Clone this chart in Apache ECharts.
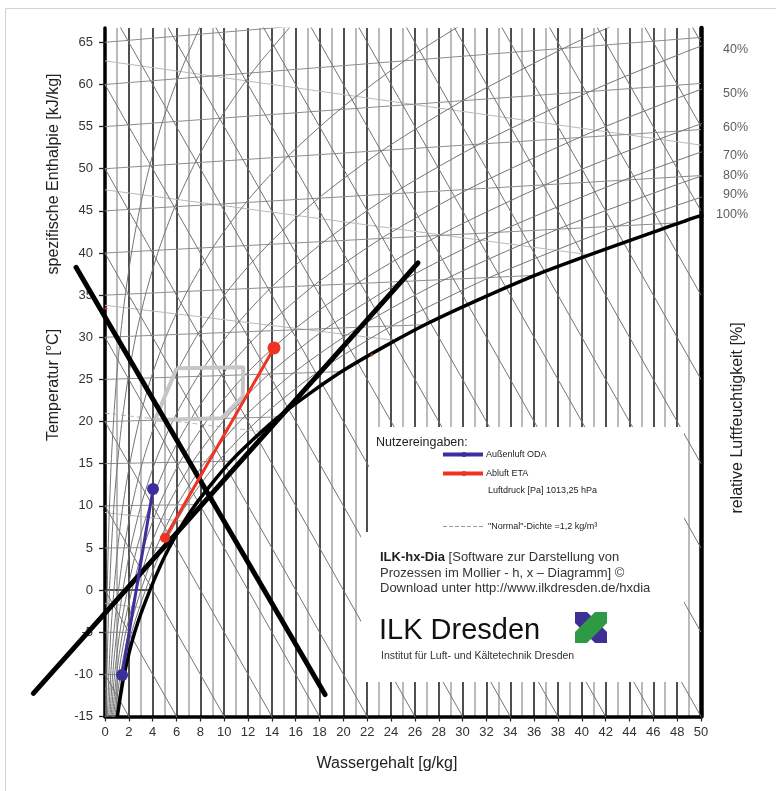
<!DOCTYPE html>
<html><head><meta charset="utf-8">
<script src="https://cdn.jsdelivr.net/npm/echarts@6/dist/echarts.min.js"></script>
<style>html,body{margin:0;padding:0;background:#fff}#c{width:776px;height:791px}</style>
</head><body><div id="c"></div>
<script>
// ---------- tick labels ----------
const xLabelTicks = [0,2,4,6,8,10,12,14,16,18,20,22,24,26,28,30,32,34,36,38,40,42,44,46,48,50];
const yLabelTicks = [-15,-10,-5,0,5,10,15,20,25,30,35,40,45,50,55,60,65];
const rhLabelText = ['40%','50%','60%','70%','80%','90%','100%'];
const rhLabelY = [64.2,58.9,54.9,51.6,49.2,46.9,44.6];

// ---------- background families (x g/kg, y chart value) ----------
const enthalpyLines = [[-10,-135],[0,-125],[10,-115],[20,-105],[30,-95],[40,-85],[50,-75],[60,-65],[70,-55],[80,-45],[90,-35],[100,-25],[110,-15],[120,-5],[130,5],[140,15],[150,25],[160,35],[170,45],[180,55],[190,65]];
const isothermTemps = [-10,-5,0,5,10,15,20,25,30,35,40,45,50,55,60,65];
const isothermEnds = [[1.60,-10.03],[2.48,-5.02],[3.77,0],[5.40,5.05],[7.62,10.14],[10.63,15.30],[14.66,20.55],[20.02,25.93],[27.13,31.51],[36.48,37.37],[48.78,43.63],[50,49.19],[50,54.65],[50,60.12],[50,65.58],[50,71.05]];
const densityValues = [1.05,1.10,1.15,1.20,1.25,1.30,1.35];
const densityLines = [[[0,62.8],[50,52.8]],[[0,47.5],[40.6,39.8]],[[0,33.8],[24.5,29.6]],[[0,21.0],[13.25,18.8]],[[0,9.2],[6.72,8.14]],[[0,-1.6],[3.25,-2.09]],[[0,-11.7],[1.39,-11.9]]];

const rh05 = [[0.05,-15.09],[0.08,-10.06],[0.12,-5.03],[0.19,0],[0.27,5.03],[0.38,10.07],[0.52,15.10],[0.72,20.15],[0.97,25.2],[1.30,30.25],[1.73,35.32],[2.27,40.41],[2.95,45.52],[3.81,50.65],[4.88,55.83],[6.20,61.05],[7.81,66.33],[8.56,68.47]];
const rh10 = [[0.10,-15.09],[0.16,-10.06],[0.25,-5.03],[0.38,0],[0.54,5.04],[0.75,10.07],[1.05,15.12],[1.44,20.17],[1.95,25.24],[2.61,30.33],[3.47,35.44],[4.56,40.58],[5.94,45.77],[7.67,51.01],[9.83,56.33],[12.52,61.76],[15.82,67.30]];
const rh20 = [[0.20,-15.1],[0.32,-10.07],[0.49,-5.04],[0.75,0],[1.07,5.04],[1.51,10.09],[2.10,15.15],[2.88,20.23],[3.90,25.33],[5.24,30.47],[6.97,35.66],[9.18,40.92],[11.99,46.27],[15.54,51.75],[19.99,57.37],[25.55,63.21],[32.48,69.3]];
const rh30 = [[0.31,-15.1],[0.48,-10.07],[0.74,-5.04],[1.13,0],[1.61,5.05],[2.27,10.1],[3.15,15.18],[4.33,20.28],[5.87,25.42],[7.90,30.62],[10.51,35.89],[13.87,41.27],[18.16,46.79],[23.60,52.49],[30.48,58.45],[39.11,64.73],[43.19,67.35]];
const rh40 = [[0.41,-15.1],[0.64,-10.07],[0.99,-5.04],[1.50,0],[2.15,5.05],[3.03,10.12],[4.21,15.21],[5.78,20.34],[7.86,25.52],[10.58,30.77],[14.09,36.13],[18.63,41.63],[24.46,47.32],[31.87,53.26],[41.32,59.56],[48.14,63.54],[50.65,64.91]];
const rh50 = [[0.51,-15.1],[0.80,-10.07],[1.24,-5.04],[1.88,0],[2.69,5.05],[3.79,10.13],[5.27,15.24],[7.24,20.39],[9.85,25.61],[13.27,30.92],[17.72,36.36],[23.47,41.99],[30.87,47.85],[40.35,54.05],[47.3,57.98],[49.83,59.33],[51.16,60.0]];
const rh60 = [[0.61,-15.1],[0.96,-10.08],[1.48,-5.04],[2.26,0],[3.23,5.06],[4.55,10.14],[6.33,15.31],[8.72,20.44],[11.86,25.70],[16.0,31.07],[21.38,36.60],[28.39,42.35],[37.41,48.40],[44.05,52.22],[49.07,54.86],[51.75,56.22]];
const rh70 = [[0.71,-15.1],[1.12,-10.08],[1.73,-5.05],[2.64,0],[3.77,5.07],[5.31,10.16],[7.40,15.30],[10.19,20.50],[13.88,25.80],[18.74,31.23],[25.1,36.84],[33.37,42.72],[44.1,48.96],[49.2,51.58],[52.0,52.93]];
const rh80 = [[0.81,-15.1],[1.28,-10.08],[1.98,-5.05],[3.02,0],[4.31,5.07],[6.08,10.17],[8.47,15.33],[11.67,20.55],[15.92,25.89],[21.51,31.38],[28.84,37.09],[38.46,43.10],[48.13,48.2],[49.5,48.87],[50.9,49.53]];
const rh90 = [[0.92,-15.1],[1.44,-10.09],[2.23,-5.05],[3.40,0],[4.85,5.08],[6.85,10.19],[9.55,15.36],[13.17,20.61],[17.96,25.99],[24.31,31.54],[32.64,37.33],[43.56,43.48],[49.67,46.46],[51.66,47.39]];
const saturation = [[1.02,-15.12],[1.60,-10.09],[2.48,-5.05],[3.77,0],[5.40,5.08],[7.62,10.2],[10.63,15.39],[14.66,20.67],[20.02,26.08],[27.13,31.69],[36.48,37.59],[48.78,43.87],[50.2,44.52]];

// ---------- user lines ----------
const comfortZone = [[6.01,26.33],[11.6,26.45],[11.55,22.96],[9.79,20.39],[4.19,20.19],[6.01,26.33]];
const lineA = [-6.01,-12.25,26.26,38.83];
const lineB = [-2.43,38.3,18.46,-12.4];
const outsideAir = [[1.43,-10.07],[4.03,12.0]];
const exhaustAir = [[5.03,6.19],[14.18,28.74]];
const redDots = [[0.08,33.4],[22.4,27.9]];

const FONT = '"Liberation Sans", Arial, sans-serif';
const chart = echarts.init(document.getElementById('c'), null, {renderer:'canvas'});

function ln(data, color, width, extra) {
  return Object.assign({type:'line', data:data, symbol:'none', showSymbol:false, silent:true,
    animation:false, clip:true, z:2, lineStyle:{color:color, width:width}}, extra || {});
}
function freeLine(seg) {
  return {type:'custom', data:[seg], silent:true, animation:false, clip:false, z:6,
    renderItem:function(params, api){
      const p0 = api.coord([api.value(0), api.value(1)]);
      const p1 = api.coord([api.value(2), api.value(3)]);
      return {type:'line', shape:{x1:p0[0],y1:p0[1],x2:p1[0],y2:p1[1]},
        style:{stroke:'#000', lineWidth:5, lineCap:'round'}};
    }};
}
const series = [];
densityLines.forEach((d,i) => series.push(ln(d,'#b9b9b9',1,{lineStyle:{color:'#b9b9b9',width:1,type: densityValues[i]===1.2?[5,3]:'solid'}})));
isothermTemps.forEach((t,i) => series.push(ln([[0,t],isothermEnds[i]], t===0?'#222':'#8e8e8e', t===0?1.5:1)));
enthalpyLines.forEach(e => series.push(ln([[0,e[0]],[50,e[1]]],'#747474',1)));
[rh05,rh10,rh20,rh30,rh40,rh50,rh60,rh70,rh80,rh90].forEach(c => series.push(ln(c,'#747474',1,{smooth:0.25})));
series.push(ln(comfortZone,'#c6c6c6',4,{z:4}));
series.push(ln(saturation,'#000',3.5,{smooth:0.25,z:5}));
series.push(freeLine(lineA));
series.push(freeLine(lineB));
series.push(ln(outsideAir,'#3b2f9e',3,{z:8,symbol:'circle',showSymbol:true,symbolSize:12,itemStyle:{color:'#3b2f9e'}}));
series.push(ln(exhaustAir,'#ef3222',3,{z:8,symbol:'circle',showSymbol:true,
  symbolSize:(v,p)=>p.dataIndex===1?13:10,itemStyle:{color:'#ef3222'}}));
series.push({type:'scatter',data:redDots,symbolSize:3,itemStyle:{color:'#ef3222'},silent:true,animation:false,z:7});
series.push({type:'scatter',data:rhLabelY.map(y=>[50,y]),symbolSize:0,silent:true,animation:false,clip:false,z:9,
  label:{show:true,position:'right',distance:7,align:'right',offset:[40,0],fontSize:12.5,color:'#333',fontFamily:FONT,
    formatter:p=>rhLabelText[p.dataIndex]}});

const W = 100;
const graphic = [
  {type:'rect',silent:true,z:0,shape:{x:5.5,y:8.5,width:800,height:800},style:{fill:'none',stroke:'#d2d2d2',lineWidth:1}},
  {type:'rect',silent:true,z:W,shape:{x:369,y:427,width:315,height:106},style:{fill:'#fff'}},
  {type:'rect',silent:true,z:W,shape:{x:361,y:532,width:323,height:150},style:{fill:'#fff'}},
  {type:'text',z:W+1,x:376,y:443,style:{text:'Nutzereingaben:',font:'12.5px '+FONT,fill:'#222',verticalAlign:'middle'}},
  {type:'line',z:W+1,shape:{x1:443,y1:454.5,x2:483,y2:454.5},style:{stroke:'#3b2f9e',lineWidth:4}},
  {type:'circle',z:W+1,shape:{cx:464,cy:454.5,r:2.5},style:{fill:'#3b2f9e'}},
  {type:'text',z:W+1,x:486,y:455,style:{text:'Außenluft ODA',font:'9px '+FONT,fill:'#222',verticalAlign:'middle'}},
  {type:'line',z:W+1,shape:{x1:443,y1:473.5,x2:483,y2:473.5},style:{stroke:'#ef3222',lineWidth:4}},
  {type:'circle',z:W+1,shape:{cx:464,cy:473.5,r:2.5},style:{fill:'#ef3222'}},
  {type:'text',z:W+1,x:486,y:474,style:{text:'Abluft ETA',font:'9px '+FONT,fill:'#222',verticalAlign:'middle'}},
  {type:'text',z:W+1,x:488,y:491,style:{text:'Luftdruck [Pa] 1013,25 hPa',font:'9px '+FONT,fill:'#222',verticalAlign:'middle'}},
  {type:'line',z:W+1,shape:{x1:443,y1:526.5,x2:484,y2:526.5},style:{stroke:'#999',lineWidth:1,lineDash:[4,2]}},
  {type:'text',z:W+1,x:488,y:527,style:{text:'"Normal"-Dichte =1,2 kg/m³',font:'9px '+FONT,fill:'#222',verticalAlign:'middle'}},
  {type:'text',z:W+1,x:380,y:557,style:{text:'{b|ILK-hx-Dia} [Software zur Darstellung von',rich:{b:{fontWeight:'bold',fontSize:13,fontFamily:FONT,fill:'#222'}},fontSize:13,fontFamily:FONT,fill:'#333',verticalAlign:'middle'}},
  {type:'text',z:W+1,x:380,y:573,style:{text:'Prozessen im Mollier - h, x – Diagramm] ©',fontSize:13,fontFamily:FONT,fill:'#333',verticalAlign:'middle'}},
  {type:'text',z:W+1,x:380,y:588.5,style:{text:'Download unter http://www.ilkdresden.de/hxdia',fontSize:13,fontFamily:FONT,fill:'#333',verticalAlign:'middle'}},
  {type:'text',z:W+1,x:379,y:631,style:{text:'ILK Dresden',fontSize:29,fontFamily:FONT,fill:'#111',verticalAlign:'middle'}},
  {type:'text',z:W+1,x:381,y:656,style:{text:'Institut für Luft- und Kältetechnik Dresden',fontSize:10.5,fontFamily:FONT,fill:'#333',verticalAlign:'middle'}},
  {type:'polygon',z:W+1,shape:{points:[[575,612],[587,612],[607,632],[607,643],[595,643],[575,623]]},style:{fill:'#3d2f96'}},
  {type:'polygon',z:W+2,shape:{points:[[575,632],[595,612],[607,612],[607,623],[587,643],[575,643]]},style:{fill:'#2f9a45'}},
  {type:'text',z:W,x:54,y:174,rotation:Math.PI/2,style:{text:'spezifische Enthalpie [kJ/kg]',fontSize:16,fontFamily:FONT,fill:'#222',align:'center',verticalAlign:'middle'}},
  {type:'text',z:W,x:54,y:385,rotation:Math.PI/2,style:{text:'Temperatur [°C]',fontSize:16,fontFamily:FONT,fill:'#222',align:'center',verticalAlign:'middle'}},
  {type:'text',z:W,x:738,y:418,rotation:Math.PI/2,style:{text:'relative Luftfeuchtigkeit [%]',fontSize:16,fontFamily:FONT,fill:'#222',align:'center',verticalAlign:'middle'}},
  {type:'text',z:W,x:387,y:764,style:{text:'Wassergehalt [g/kg]',fontSize:16,fontFamily:FONT,fill:'#222',align:'center',verticalAlign:'middle'}}
];

const yMin = -15, yMax = 66.7;
chart.setOption({
  animation:false,
  textStyle:{fontFamily:FONT},
  grid:{left:105,right:75,top:28,bottom:74.5,containLabel:false,outerBoundsMode:'none'},
  xAxis:[
    {type:'value',min:0,max:50,interval:1,position:'bottom',
      axisLine:{onZero:false,lineStyle:{color:'#000',width:3.5}},
      axisTick:{show:false},axisLabel:{show:false},
      splitLine:{show:true,lineStyle:{color:['#3c3c3c','#b3b3b3'],width:1.8}}},
    {type:'value',min:0,max:50,interval:2,position:'bottom',
      axisLine:{show:false,onZero:false},
      axisTick:{show:true,length:5,lineStyle:{color:'#222',width:1.2}},
      axisLabel:{show:true,margin:9,fontSize:13,color:'#333',fontFamily:FONT},
      splitLine:{show:false}}
  ],
  yAxis:[
    {type:'value',min:yMin,max:yMax,interval:5,position:'left',
      axisLine:{show:true,onZero:false,lineStyle:{color:'#000',width:3.5}},
      axisTick:{show:true,length:6,customValues:yLabelTicks,lineStyle:{color:'#222',width:1.3}},
      axisLabel:{show:true,margin:12,fontSize:13,color:'#333',fontFamily:FONT,customValues:yLabelTicks},
      splitLine:{show:false}},
    {type:'value',min:yMin,max:yMax,position:'right',
      axisLine:{show:true,onZero:false,lineStyle:{color:'#000',width:4.5}},
      axisTick:{show:false},axisLabel:{show:false},splitLine:{show:false}}
  ],
  series:series,
  graphic:graphic
});
</script>
</body></html>
